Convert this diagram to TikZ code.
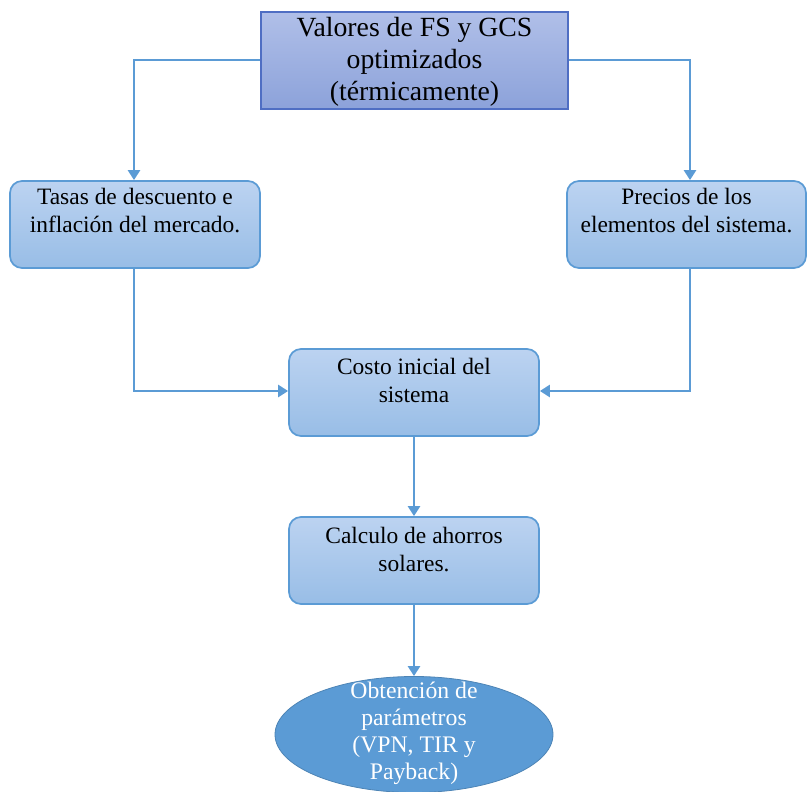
\documentclass[tikz,border=0pt]{standalone}
\usepackage{fontspec}
\setmainfont{Liberation Serif}
\usetikzlibrary{arrows.meta,shapes.geometric}
\definecolor{lineblue}{HTML}{5B9BD5}
\definecolor{topA}{HTML}{B0BFE8}
\definecolor{topB}{HTML}{8CA2DA}
\definecolor{topline}{HTML}{4F6EC3}
\definecolor{boxA}{HTML}{BCD3F1}
\definecolor{boxB}{HTML}{98BDE6}
\definecolor{ellfill}{HTML}{5B9BD5}
\def\u{0.75pt}
\begin{document}
\begin{tikzpicture}[x=0.75pt,y=-0.75pt,
  topbox/.style={draw=topline,line width=1.5pt,top color=topA,bottom color=topB,minimum width=307*\u,minimum height=97*\u,inner sep=0pt},
  rbox/.style={draw=lineblue,line width=1.3pt,rounded corners=9pt,top color=boxA,bottom color=boxB,minimum width=250*\u,minimum height=87*\u,inner sep=0pt},
  boxtext/.style={align=center,font=\fontsize{17.6}{21}\selectfont,inner sep=0pt},
  toptext/.style={align=center,font=\fontsize{20.8}{24}\selectfont,inner sep=0pt},
  elltext/.style={align=center,font=\fontsize{17.8}{20.3}\selectfont,text=white,inner sep=0pt},
  conn/.style={draw=lineblue,line width=2.2pt,-{Triangle[width=9pt,length=7.5pt]}}
]
\useasboundingbox (0,0) rectangle (808,792);
\node[topbox] (top) at (414.5,60.5) {};
\node[toptext] (toptxt) at (414.5,62) {Valores de FS y GCS\\optimizados\\(térmicamente)};
\node[rbox] (left) at (135,224.5) {};
\node[boxtext] (lefttxt) at (135,211) {Tasas de descuento e\\inflación del mercado.};
\node[rbox,minimum width=239*\u] (right) at (686.5,224.5) {};
\node[boxtext] (righttxt) at (686.5,211) {Precios de los\\elementos del sistema.};
\node[rbox] (mid) at (414,392.5) {};
\node[boxtext] (midtxt) at (414,380) {Costo inicial del\\sistema};
\node[rbox] (calc) at (414,560.5) {};
\node[boxtext] (calctxt) at (414,549.5) {Calculo de ahorros\\solares.};
\node[ellipse,fill=ellfill,draw=ellfill!85!black,line width=0.6pt,minimum width=278*\u,minimum height=116*\u,inner sep=0pt] (ell) at (414,734.5) {};
\node[elltext] (elltxt) at (414,733) {Obtención de\\parámetros\\(VPN, TIR y\\Payback)};
\coordinate (lc1) at (134,60);
\coordinate (rc1) at (690,60);
\coordinate (lc2) at (134,391);
\coordinate (rc2) at (690,391);
\draw[conn] (top.west |- lc1) -- (lc1) -- (lc1 |- left.north);
\draw[conn] (top.east |- rc1) -- (rc1) -- (rc1 |- right.north);
\draw[conn] (lc1 |- left.south) -- (lc2) -- (mid.west |- lc2);
\draw[conn] (rc1 |- right.south) -- (rc2) -- (mid.east |- rc2);
\draw[conn] (mid.south) -- (calc.north);
\draw[conn] (calc.south) -- (ell.north);
\end{tikzpicture}
\end{document}
